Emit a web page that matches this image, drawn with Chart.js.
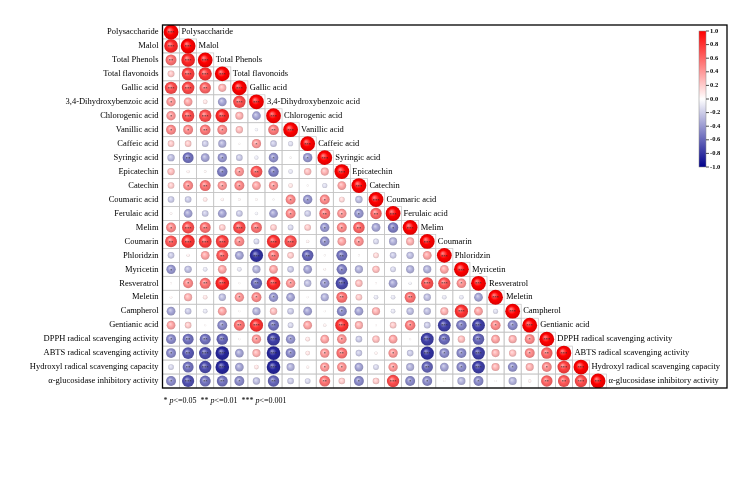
<!DOCTYPE html>
<html>
<head>
<meta charset="utf-8">
<script src="https://cdn.jsdelivr.net/npm/chart.js@4.4.1/dist/chart.umd.min.js"></script>
<style>
  html, body { margin: 0; padding: 0; background: #fff; }
  #wrap { width: 751px; height: 495px; }
</style>
</head>
<body>
<div id="wrap"><canvas id="corr-chart"></canvas></div>
<script>
// variables, in matrix order
const variables = [
  "Polysaccharide", "Malol", "Total Phenols", "Total flavonoids", "Gallic acid",
  "3,4-Dihydroxybenzoic acid", "Chlorogenic acid", "Vanillic acid", "Caffeic acid",
  "Syringic acid", "Epicatechin", "Catechin", "Coumaric acid", "Ferulaic acid",
  "Melim", "Coumarin", "Phloridzin", "Myricetin", "Resveratrol", "Meletin",
  "Campherol", "Gentianic acid", "DPPH radical scavenging activity",
  "ABTS radical scavenging activity", "Hydroxyl radical scavenging capacity",
  "α-glucosidase inhibitory activity"
];

// lower triangle of the correlation matrix, one row per variable (diagonal last)
const corrLower = [
  [1],
  [0.85, 1],
  [0.55, 0.85, 1],
  [0.22, 0.75, 0.8, 1],
  [0.7, 0.72, 0.6, 0.3, 1],
  [0.4, 0.35, 0.1, -0.35, 0.7, 1],
  [0.4, 0.7, 0.7, 0.85, 0.3, -0.35, 1],
  [0.45, 0.45, 0.52, 0.45, 0.25, -0.05, 0.52, 1],
  [0.2, 0.2, -0.2, -0.3, 0.02, 0.4, -0.2, -0.12, 1],
  [-0.25, -0.55, -0.35, -0.4, -0.2, -0.08, -0.42, 0.02, -0.4, 1],
  [0.25, 0.05, 0.03, -0.5, 0.4, 0.65, -0.5, -0.1, 0.25, 0.3, 1],
  [0.2, 0.45, 0.55, 0.4, 0.45, 0.35, 0.4, 0.1, 0.02, -0.12, 0.35, 1],
  [-0.2, -0.2, 0.1, 0.05, 0.03, 0.03, 0.02, 0.45, -0.4, 0.45, 0.15, -0.25, 1],
  [0.03, -0.35, -0.2, -0.35, -0.2, -0.05, -0.35, 0.45, -0.2, 0.55, 0.4, -0.4, 0.6, 1],
  [0.45, 0.68, 0.55, 0.2, 0.7, 0.55, 0.2, -0.15, 0.2, -0.4, 0.45, 0.6, -0.35, -0.5, 1],
  [0.65, 0.8, 0.75, 0.75, 0.45, -0.15, 0.8, 0.68, 0.05, -0.42, 0.35, 0.42, -0.15, -0.3, 0.3, 1],
  [-0.2, 0.05, 0.35, 0.65, -0.35, -0.8, 0.55, 0.2, -0.6, 0.02, -0.55, 0.02, 0.15, -0.2, -0.25, 0.35, 1],
  [-0.4, -0.25, -0.1, 0.35, -0.1, -0.3, 0.35, -0.2, -0.35, 0.03, -0.5, -0.3, 0.25, -0.15, -0.3, -0.3, 0.35, 1],
  [0.02, 0.45, 0.55, 0.85, 0.02, -0.58, 0.85, 0.4, -0.25, -0.4, -0.7, 0.25, 0.02, -0.35, -0.05, 0.68, 0.68, 0.42, 1],
  [0.03, 0.3, 0.1, -0.25, 0.4, 0.45, -0.4, -0.35, 0.02, -0.3, 0.55, 0.2, -0.1, -0.1, 0.55, -0.25, -0.1, -0.1, -0.35, 1],
  [-0.35, -0.2, -0.1, 0.35, 0.02, -0.3, 0.25, -0.2, -0.35, 0.02, -0.45, -0.35, 0.3, -0.1, -0.25, -0.25, 0.3, 0.8, 0.35, -0.12, 1],
  [0.35, 0.2, 0.02, -0.45, 0.55, 0.8, -0.55, -0.15, 0.35, 0.05, 0.8, 0.3, 0.02, 0.2, 0.5, -0.2, -0.75, -0.5, -0.75, 0.45, -0.45, 1],
  [-0.45, -0.55, -0.55, -0.6, 0.02, 0.4, -0.75, -0.4, 0.1, 0.35, 0.42, -0.2, 0.25, 0.35, 0.02, -0.75, -0.58, 0.25, -0.6, 0.35, 0.3, 0.45, 1],
  [-0.45, -0.65, -0.7, -0.85, -0.35, 0.3, -0.85, -0.45, 0.1, 0.4, 0.55, -0.2, 0.05, 0.4, -0.2, -0.8, -0.45, -0.45, -0.75, 0.3, 0.25, 0.45, 0.6, 1],
  [-0.15, -0.55, -0.7, -0.85, -0.35, 0.1, -0.85, -0.3, 0.05, 0.4, 0.42, -0.35, -0.15, 0.4, -0.3, -0.6, -0.35, -0.45, -0.75, 0.3, -0.42, 0.3, 0.45, 0.75, 1],
  [-0.45, -0.68, -0.55, -0.55, -0.45, -0.25, -0.6, -0.2, -0.15, 0.55, 0.2, -0.45, 0.2, 0.7, -0.45, -0.45, 0.02, -0.3, -0.45, 0.02, -0.3, 0.05, 0.6, 0.65, 0.7, 1]
];

const colorbarTicks = ["1.0", "0.8", "0.6", "0.4", "0.2", "0.0", "-0.2", "-0.4", "-0.6", "-0.8", "-1.0"];
const footnote = ["* ", "p", "<=0.05  ** ", "p", "<=0.01  *** ", "p", "<=0.001"];

const serif = '"Liberation Serif", "Times New Roman", serif';
const cellCount = variables.length;

function corrRGB(v) {
  if (v >= 0) {
    const k = 255 * (1 - v);
    return [255, k, k];
  }
  const a = -v;
  return [255 * (1 - a), 255 * (1 - a), 255 - 116 * a];
}
function rgbStr(c, f, white) {
  const m = c.map(ch => Math.round(white ? ch + (255 - ch) * f : ch * f));
  return `rgb(${m[0]},${m[1]},${m[2]})`;
}
function stars(v) {
  const a = Math.abs(v);
  if (a >= 0.66) return "***";
  if (a >= 0.52) return "**";
  if (a >= 0.4) return "*";
  return "";
}

const points = [];
corrLower.forEach((row, i) => {
  row.forEach((v, j) => points.push({ x: j, y: i, v: v }));
});

const cellRadius = 7.4;

const matrixPlugin = {
  id: "matrixDecor",
  beforeDatasetsDraw(chart) {
    const { ctx, scales: { x, y } } = chart;
    ctx.save();
    ctx.strokeStyle = "#c4c4c4";
    ctx.lineWidth = 0.7;
    for (let i = 0; i < cellCount; i++) {
      for (let j = 0; j <= i; j++) {
        const x0 = x.getPixelForValue(j - 0.5), x1 = x.getPixelForValue(j + 0.5);
        const y0 = y.getPixelForValue(i - 0.5), y1 = y.getPixelForValue(i + 0.5);
        ctx.strokeRect(x0, y0, x1 - x0, y1 - y0);
      }
    }
    ctx.restore();
  },
  afterDatasetsDraw(chart) {
    const { ctx, chartArea: area, scales: { x, y } } = chart;
    ctx.save();

    // significance marks inside the circles
    ctx.fillStyle = "#222";
    ctx.font = `4.5px ${serif}`;
    ctx.textAlign = "center";
    ctx.textBaseline = "middle";
    points.forEach(p => {
      const s = stars(p.v);
      if (s) ctx.fillText(s, x.getPixelForValue(p.x), y.getPixelForValue(p.y) + 1);
    });

    // row labels and diagonal labels
    ctx.fillStyle = "#000";
    ctx.font = `8.5px ${serif}`;
    ctx.textBaseline = "middle";
    variables.forEach((name, i) => {
      const py = y.getPixelForValue(i);
      ctx.textAlign = "right";
      ctx.fillText(name, area.left - 4, py);
      ctx.textAlign = "left";
      ctx.fillText(name, x.getPixelForValue(i) + 10.5, py);
    });

    // colour bar
    const bx = area.right - 28, bw = 7, by = area.top + 6, bh = 136;
    const grad = ctx.createLinearGradient(0, by, 0, by + bh);
    grad.addColorStop(0, rgbStr(corrRGB(1), 1));
    grad.addColorStop(0.5, "#ffffff");
    grad.addColorStop(1, rgbStr(corrRGB(-1), 1));
    ctx.fillStyle = grad;
    ctx.fillRect(bx, by, bw, bh);
    ctx.strokeStyle = "#888";
    ctx.lineWidth = 0.5;
    ctx.strokeRect(bx, by, bw, bh);
    ctx.strokeStyle = "#000";
    ctx.lineWidth = 0.7;
    ctx.fillStyle = "#000";
    ctx.font = `bold 6.5px ${serif}`;
    ctx.textAlign = "left";
    colorbarTicks.forEach((t, k) => {
      const ty = by + (bh * k) / (colorbarTicks.length - 1);
      ctx.beginPath();
      ctx.moveTo(bx + bw, ty);
      ctx.lineTo(bx + bw + 3, ty);
      ctx.stroke();
      ctx.fillText(t, bx + bw + 4, ty);
    });

    // outer frame
    ctx.strokeStyle = "#000";
    ctx.lineWidth = 1.3;
    ctx.strokeRect(area.left, area.top, area.right - area.left, area.bottom - area.top);

    // footnote
    let fx = area.left + 1;
    const fy = area.bottom + 13;
    ctx.textAlign = "left";
    footnote.forEach(part => {
      ctx.font = part === "p" ? `italic 8px ${serif}` : `8px ${serif}`;
      ctx.fillText(part, fx, fy);
      fx += ctx.measureText(part).width;
    });
    ctx.restore();
  }
};

const corrChart = new Chart(document.getElementById("corr-chart"), {
  type: "scatter",
  data: {
    datasets: [{
      data: points,
      pointRadius: c => cellRadius * Math.sqrt(Math.abs(c.raw ? c.raw.v : 0)),
      pointBorderWidth: 0,
      pointBackgroundColor: c => {
        const p = c.raw;
        if (!p) return "#fff";
        const base = corrRGB(p.v);
        const chart = c.chart;
        const px = chart.scales.x.getPixelForValue(p.x);
        const py = chart.scales.y.getPixelForValue(p.y);
        if (!isFinite(px) || !isFinite(py)) return rgbStr(base, 1);
        const r = Math.max(cellRadius * Math.sqrt(Math.abs(p.v)), 0.5);
        const g = chart.ctx.createRadialGradient(px - r * 0.25, py - r * 0.3, 0, px, py, r);
        g.addColorStop(0, rgbStr(base, 0.55, true));
        g.addColorStop(0.55, rgbStr(base, 1));
        g.addColorStop(1, rgbStr(base, 0.85));
        return g;
      }
    }]
  },
  options: {
    responsive: true,
    maintainAspectRatio: false,
    animation: false,
    events: [],
    layout: { padding: { left: 162.5, top: 25, right: 24, bottom: 107 } },
    plugins: { legend: { display: false }, tooltip: { enabled: false } },
    scales: {
      x: { type: "linear", display: false, min: -0.5, max: 32.55 },
      y: { type: "linear", display: false, min: -0.5, max: cellCount - 0.5, reverse: true }
    }
  },
  plugins: [matrixPlugin]
});
corrChart.update();
</script>
</body>
</html>
